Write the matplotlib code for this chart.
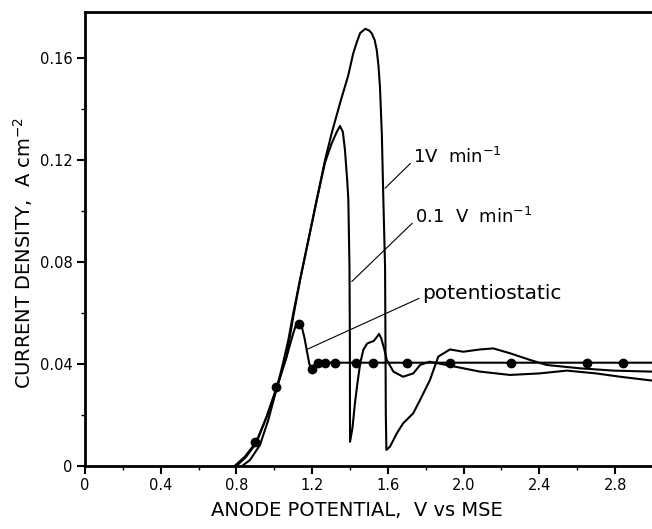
import matplotlib
matplotlib.use("Agg")
import matplotlib.pyplot as plt
from matplotlib.ticker import MultipleLocator, FixedLocator

# potentiostatic: measured points (dots) and the line through them
pot_dot_x = [0.90, 1.01, 1.13, 1.20, 1.23, 1.27, 1.32, 1.43, 1.52, 1.70, 1.93, 2.25, 2.65, 2.84]
pot_dot_y = [0.0094, 0.031, 0.0555, 0.038, 0.0405, 0.0405, 0.0405, 0.0405, 0.0405,
             0.0405, 0.0405, 0.0405, 0.0405, 0.0405]
pot_x = [0.79, 0.845, 0.903, 0.96, 1.013, 1.065, 1.10, 1.115, 1.13, 1.145, 1.16, 1.171,
         1.185, 1.197, 1.21, 1.224, 2.995]
pot_y = [0.0, 0.0037, 0.0093, 0.0193, 0.0305, 0.0429, 0.052, 0.0555, 0.0557, 0.0546, 0.050,
         0.0455, 0.040, 0.038, 0.0395, 0.0405, 0.0405]

# 1 V/min sweep
v1_x = [0.83, 0.872, 0.924, 0.968, 1.013, 1.045, 1.074, 1.10, 1.136, 1.18, 1.224, 1.268,
        1.303, 1.35, 1.39, 1.417, 1.435, 1.453, 1.48, 1.50, 1.514, 1.53, 1.541, 1.55, 1.558,
        1.568, 1.576, 1.585, 1.587, 1.589, 1.592, 1.611, 1.647, 1.68, 1.734, 1.77, 1.822,
        1.866, 1.928, 1.998, 2.087, 2.157, 2.245, 2.35, 2.439, 2.615, 2.79, 2.995]
v1_y = [0.0, 0.0024, 0.0082, 0.018, 0.0305, 0.040, 0.0494, 0.0599, 0.073, 0.0886, 0.1043,
        0.12, 0.1305, 0.143, 0.153, 0.1618, 0.166, 0.1697, 0.1714, 0.1708, 0.1697, 0.167,
        0.1631, 0.157, 0.1487, 0.13, 0.1043, 0.078, 0.05, 0.02, 0.0063, 0.0076, 0.0128,
        0.0167, 0.0207, 0.0259, 0.0337, 0.0429, 0.0457, 0.0448, 0.0457, 0.0461, 0.0442,
        0.0416, 0.0396, 0.0383, 0.0374, 0.037]

# 0.1 V/min sweep
v01_x = [0.80, 0.85, 0.905, 0.96, 1.013, 1.065, 1.10, 1.136, 1.18, 1.224, 1.268, 1.303,
         1.33, 1.347, 1.362, 1.373, 1.385, 1.391, 1.397, 1.399, 1.40, 1.413, 1.426, 1.44,
         1.453, 1.47, 1.49, 1.506, 1.525, 1.541, 1.553, 1.565, 1.58, 1.594, 1.629, 1.68,
         1.734, 1.77, 1.82, 1.91, 2.087, 2.245, 2.40, 2.545, 2.70, 2.826, 2.995]
v01_y = [0.0, 0.0035, 0.009, 0.0195, 0.031, 0.043, 0.0585, 0.073, 0.0886, 0.1043, 0.119,
         0.1265, 0.131, 0.1333, 0.131, 0.124, 0.112, 0.1043, 0.078, 0.05, 0.0095, 0.015,
         0.0247, 0.033, 0.040, 0.0455, 0.048, 0.0485, 0.049, 0.0505, 0.0518, 0.050, 0.046,
         0.0416, 0.037, 0.035, 0.0363, 0.0396, 0.0409, 0.0396, 0.037, 0.0357, 0.0363,
         0.0374, 0.0363, 0.035, 0.0335]

x_ticks = [0, 0.4, 0.8, 1.2, 1.6, 2.0, 2.4, 2.8]
x_tick_labels = ["0", "0.4", "0.8", "1.2", "1.6", "2.0", "2.4", "2.8"]
y_ticks = [0, 0.04, 0.08, 0.12, 0.16]
y_tick_labels = ["0", "0.04", "0.08", "0.12", "0.16"]

plt.rcParams['mathtext.default'] = 'regular'
plt.rcParams['font.family'] = ['DejaVu Sans']

fig = plt.figure(figsize=(6.52, 5.29), dpi=100)
ax = fig.add_axes([85 / 652, 63 / 529, 1 - 85 / 652, 454 / 529])

lw = 1.5
ax.plot(pot_x, pot_y, color='black', lw=lw)
ax.plot(pot_dot_x, pot_dot_y, 'o', color='black', ms=6)
ax.plot(v1_x, v1_y, color='black', lw=lw)
ax.plot(v01_x, v01_y, color='black', lw=lw)

ax.set_xlim(0, 2.995)
ax.set_ylim(0, 0.178)

ax.spines['right'].set_visible(False)
for s in ['left', 'top', 'bottom']:
    ax.spines[s].set_linewidth(2)

tick_font = dict(family=['Liberation Sans Narrow', 'DejaVu Sans'], size=10.5)
ax.xaxis.set_major_locator(FixedLocator(x_ticks))
ax.set_xticklabels(x_tick_labels, **tick_font)
ax.xaxis.set_minor_locator(MultipleLocator(0.2))
ax.yaxis.set_major_locator(FixedLocator(y_ticks))
ax.set_yticklabels(y_tick_labels, **tick_font)
ax.yaxis.set_minor_locator(MultipleLocator(0.02))
ax.tick_params(which='major', direction='out', length=6, width=1.5, pad=3)
ax.tick_params(which='minor', direction='out', length=3, width=1)

ax.set_xlabel("ANODE POTENTIAL,  V vs MSE", fontsize=14)
ax.xaxis.set_label_coords(0.48, -0.078)
ax.set_ylabel("CURRENT DENSITY,  A cm$^{-2}$", fontsize=14)
ax.yaxis.set_label_coords(-0.088, 0.47)

arrow = dict(arrowstyle='-', lw=0.8, color='black', shrinkA=0, shrinkB=0, relpos=(0, 0.3))
ax.annotate("1V  min$^{-1}$", xy=(1.585, 0.1089), xytext=(1.734, 0.1213),
            ha='left', va='center', fontsize=13, arrowprops=arrow)
ax.annotate("0.1  V  min$^{-1}$", xy=(1.409, 0.0723), xytext=(1.743, 0.0978),
            ha='left', va='center', fontsize=13, arrowprops=arrow)
ax.annotate("potentiostatic", xy=(1.175, 0.0458), xytext=(1.779, 0.0677),
            ha='left', va='center', fontsize=14.5, arrowprops=arrow)

fig.savefig("out.png", dpi=100)
